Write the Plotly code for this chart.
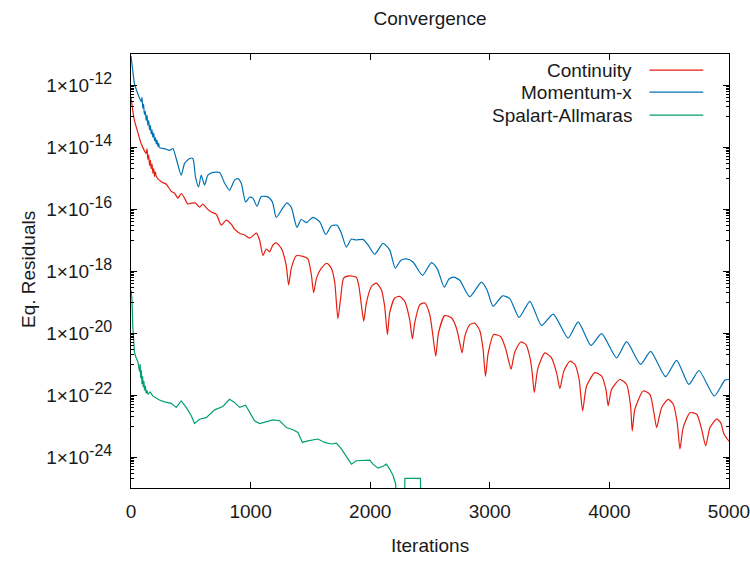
import plotly.graph_objects as go

# ---------------- data (iteration, log10 of residual) ----------------
cont_iter = [0, 15, 29, 57, 85, 127, 134, 141, 148, 155, 162, 169, 176, 183, 190, 197, 204, 211,
             253, 295, 336, 364, 392, 420, 448, 475, 504, 540, 573, 601, 632, 671, 713, 755, 797,
             838, 866, 908, 950, 992, 1048, 1075, 1103, 1131, 1159, 1187, 1215, 1257, 1297, 1318,
             1341, 1382, 1438, 1479, 1508, 1527, 1552, 1592, 1638, 1675, 1703, 1730, 1753, 1778,
             1828, 1884, 1906, 1926, 1946, 1968, 2010, 2052, 2094, 2121, 2144, 2163, 2205, 2247,
             2289, 2330, 2353, 2372, 2414, 2456, 2498, 2525, 2548, 2571, 2623, 2679, 2721, 2749,
             2768, 2791, 2833, 2874, 2916, 2944, 2964, 2986, 3033, 3092, 3134, 3159, 3178, 3209,
             3259, 3301, 3339, 3356, 3372, 3402, 3460, 3516, 3558, 3586, 3619, 3669, 3711, 3747,
             3776, 3809, 3879, 3935, 3971, 3990, 4018, 4088, 4144, 4177, 4191, 4213, 4283, 4339,
             4372, 4395, 4437, 4492, 4534, 4567, 4590, 4617, 4674, 4730, 4771, 4805, 4841, 4897,
             4930, 4958, 5000]
cont_exp = [-12.38, -12.83, -13.15, -13.53, -13.89, -14.21, -14.05, -14.40, -14.25, -14.60, -14.42,
            -14.70, -14.55, -14.85, -14.70, -14.95, -14.80, -14.95,
            -15.12, -15.20, -15.43, -15.49, -15.65, -15.50, -15.65, -15.84, -15.81, -15.81, -15.94,
            -15.84, -15.97, -16.10, -16.17, -16.52, -16.36, -16.49, -16.65, -16.78, -16.84, -16.94,
            -16.78, -17.00, -17.50, -17.29, -17.38, -17.16, -17.09, -17.27, -17.80, -18.45, -17.90,
            -17.51, -17.53, -17.61, -18.12, -18.70, -18.22, -17.91, -17.75, -17.91, -18.35, -19.54,
            -18.87, -18.23, -18.16, -18.20, -18.50, -19.09, -19.62, -19.03, -18.50, -18.39, -18.61,
            -19.14, -20.05, -19.35, -18.87, -18.82, -18.98, -19.57, -20.19, -19.68, -19.09, -19.03,
            -19.41, -20.11, -20.75, -20.00, -19.44, -19.51, -19.84, -20.32, -20.64, -20.11, -19.73,
            -19.68, -19.92, -20.53, -21.40, -20.66, -20.05, -20.12, -20.53, -20.92, -21.17, -20.61,
            -20.29, -20.37, -20.85, -21.34, -21.92, -21.14, -20.64, -20.80, -21.28, -21.79, -21.23,
            -20.91, -21.01, -21.50, -22.51, -21.71, -21.28, -21.39, -21.82, -22.35, -21.82, -21.50,
            -21.66, -22.35, -23.16, -22.46, -21.87, -21.98, -22.57, -23.05, -22.40, -22.14, -22.30,
            -22.89, -23.74, -23.05, -22.57, -22.62, -23.10, -23.64, -23.05, -22.78, -22.89, -23.26,
            -23.49]

mom_iter = [0, 15, 29, 57, 85, 92, 98, 105, 112, 120, 127, 134, 141, 148, 155, 162, 169, 176, 182,
            190, 197, 204, 211, 218, 225, 232, 238, 280, 322, 350, 378, 420, 448, 490, 517, 540, 565,
            587, 615, 643, 685, 741, 783, 824, 866, 894, 922, 958, 992, 1019, 1053, 1090, 1145, 1182,
            1215, 1257, 1304, 1341, 1387, 1424, 1466, 1521, 1577, 1628, 1675, 1722, 1759, 1801, 1843,
            1884, 1940, 1982, 2038, 2107, 2163, 2209, 2255, 2303, 2358, 2437, 2512, 2562, 2619, 2659,
            2699, 2749, 2832, 2930, 2977, 3028, 3106, 3167, 3245, 3335, 3433, 3530, 3655, 3739, 3845,
            3935, 4060, 4144, 4261, 4345, 4470, 4562, 4665, 4749, 4877, 4966, 5000]
mom_exp = [-11.06, -11.54, -11.96, -12.28, -12.54, -12.40, -12.75, -12.62, -12.95, -12.85, -13.15,
           -12.98, -13.30, -13.15, -13.45, -13.30, -13.58, -13.45, -13.68, -13.55, -13.80, -13.70,
           -13.90, -13.78, -13.98, -13.88, -14.02, -14.05, -14.11, -14.05, -14.37, -14.91, -14.53,
           -14.37, -14.37, -14.98, -15.29, -14.91, -15.23, -14.91, -14.82, -14.82, -15.17, -15.39,
           -15.07, -15.02, -15.17, -15.77, -15.62, -15.65, -15.91, -15.60, -15.61, -15.77, -16.27,
           -16.04, -15.80, -15.95, -16.59, -16.34, -16.44, -16.27, -16.41, -16.82, -16.55, -16.52,
           -16.78, -17.23, -16.97, -17.00, -16.98, -17.16, -17.46, -17.11, -17.32, -17.91, -17.66,
           -17.61, -17.71, -18.14, -17.73, -17.94, -18.52, -18.26, -18.20, -18.30, -18.83, -18.36,
           -18.61, -19.14, -18.80, -18.89, -19.50, -18.98, -19.76, -19.39, -20.16, -19.64, -20.40,
           -20.02, -20.80, -20.28, -21.01, -20.59, -21.41, -20.88, -21.66, -21.21, -22.03, -21.52,
           -21.50]

sa_iter = [0, 8, 15, 21, 29, 42, 57, 71, 76, 81, 86, 92, 97, 103, 108, 113, 120, 127, 134, 141,
           160, 182, 238, 280, 336, 378, 420, 462, 504, 531, 573, 629, 699, 768, 824, 866, 908, 958,
           992, 1033, 1075, 1131, 1187, 1243, 1299, 1354, 1396, 1433, 1479, 1563, 1619, 1675, 1717,
           1759, 1814, 1843, 1884, 1996, 2023, 2065, 2107, 2135, 2163, 2191, 2213, 2225, 2285, 2290,
           2420, 2425]
sa_exp = [-18.61, -18.93, -19.79, -20.21, -20.63, -20.79, -20.92, -21.24, -21.00, -21.45, -21.20,
          -21.65, -21.40, -21.75, -21.55, -21.85, -21.70, -21.95, -21.85, -21.98, -21.90, -22.03,
          -22.16, -22.22, -22.27, -22.40, -22.19, -22.40, -22.67, -22.92, -22.78, -22.73, -22.48,
          -22.37, -22.14, -22.24, -22.40, -22.33, -22.57, -22.83, -22.92, -22.87, -22.80, -22.83,
          -23.05, -23.12, -23.21, -23.53, -23.48, -23.42, -23.53, -23.58, -23.55, -23.74, -24.07,
          -24.23, -24.12, -24.10, -24.23, -24.36, -24.30, -24.23, -24.39, -24.60, -24.87, -26.0,
          -26.0, -24.69, -24.69, -26.0]

series_names = ["Continuity", "Momentum-x", "Spalart-Allmaras"]
major_exps = [-12, -14, -16, -18, -20, -22, -24]
x_ticks = [0, 1000, 2000, 3000, 4000, 5000]

assert len(cont_iter) == len(cont_exp)
assert len(mom_iter) == len(mom_exp)
assert len(sa_iter) == len(sa_exp)

RED, BLUE, GREEN = "#e51e10", "#0072b2", "#009e73"
FONT = "Liberation Sans, Arial, sans-serif"
TXT = "#1a1a1a"
FS = 19

def to_val(exps):
    return [10.0 ** e for e in exps]

fig = go.Figure()
series = [(cont_iter, cont_exp, RED, "spline"),
          (mom_iter, mom_exp, BLUE, "spline"),
          (sa_iter, sa_exp, GREEN, "linear")]
for name, (xs, es, col, shp) in zip(series_names, series):
    line = dict(color=col, width=1.2, shape=shp)
    if shp == "spline":
        line["smoothing"] = 0.6
    fig.add_trace(go.Scatter(x=xs, y=to_val(es), mode="lines", name=name,
                             line=line, showlegend=False, cliponaxis=True))

# minor ticks like gnuplot: 1..9 x 10^(odd decade)
minor_vals = []
for d in [-25, -23, -21, -19, -17, -15, -13, -11]:
    for j in range(1, 10):
        v = j * 10.0 ** d
        if 1e-25 * 0.999 <= v <= 1e-11 * 1.001:
            minor_vals.append(v)

ytext = ["1×10<sup><span style=\"font-size:16px\">%d</span></sup>" % e for e in major_exps]

fig.update_layout(
    width=750, height=561,
    margin=dict(l=131, r=21, t=54, b=73, autoexpand=False),
    paper_bgcolor="white", plot_bgcolor="white",
    font=dict(family=FONT, size=FS, color=TXT),
    title=dict(text="Convergence", x=0.5, xref="paper", xanchor="center",
               y=1 - 18 / 561, yref="container", yanchor="middle",
               font=dict(family=FONT, size=FS, color=TXT)),
    xaxis=dict(range=[0, 5000], tickmode="array", tickvals=x_ticks,
               ticktext=[str(t) for t in x_ticks], ticklabeloverflow="allow",
               automargin=False,
               ticks="inside", ticklen=6, tickwidth=1, tickcolor="black",
               showline=True, linecolor="black", linewidth=1, mirror="ticks",
               showgrid=False, zeroline=False, ticklabelstandoff=6,
               tickfont=dict(family=FONT, size=FS, color=TXT)),
    yaxis=dict(type="log", range=[-25, -11], tickmode="array",
               tickvals=[10.0 ** e for e in major_exps],
               ticktext=ytext, ticklabeloverflow="allow", automargin=False,
               ticks="inside", ticklen=6, tickwidth=1, tickcolor="black",
               minor=dict(tickmode="array", tickvals=minor_vals, ticks="inside",
                          ticklen=3, tickwidth=1, tickcolor="black", showgrid=False),
               showline=True, linecolor="black", linewidth=1, mirror="ticks",
               showgrid=False, zeroline=False, ticklabelstandoff=14,
               tickfont=dict(family=FONT, size=FS, color=TXT)),
)

# axis titles placed at the reference positions
fig.add_annotation(text="Iterations", x=0.5, y=-(545 - 488) / 434, xref="paper", yref="paper",
                   xanchor="center", yanchor="middle", showarrow=False,
                   font=dict(family=FONT, size=FS, color=TXT))
fig.add_annotation(text="Eq. Residuals", x=-(131 - 28) / 598, y=(488 - 270) / 434,
                   xref="paper", yref="paper", textangle=-90,
                   xanchor="center", yanchor="middle", showarrow=False,
                   font=dict(family=FONT, size=FS, color=TXT))

# legend drawn gnuplot-style: label right-aligned, sample line on the right
leg_y = [0.963, 0.912, 0.859]
for name, col, yy in zip(series_names, [RED, BLUE, GREEN], leg_y):
    fig.add_annotation(text=name, x=0.841, y=yy, xref="paper", yref="paper",
                       xanchor="right", yanchor="middle", showarrow=False,
                       font=dict(family=FONT, size=FS, color=TXT))
    fig.add_shape(type="line", x0=0.867, x1=0.957, y0=yy, y1=yy,
                  xref="paper", yref="paper", line=dict(color=col, width=1.2))

fig.write_html("out.html")
